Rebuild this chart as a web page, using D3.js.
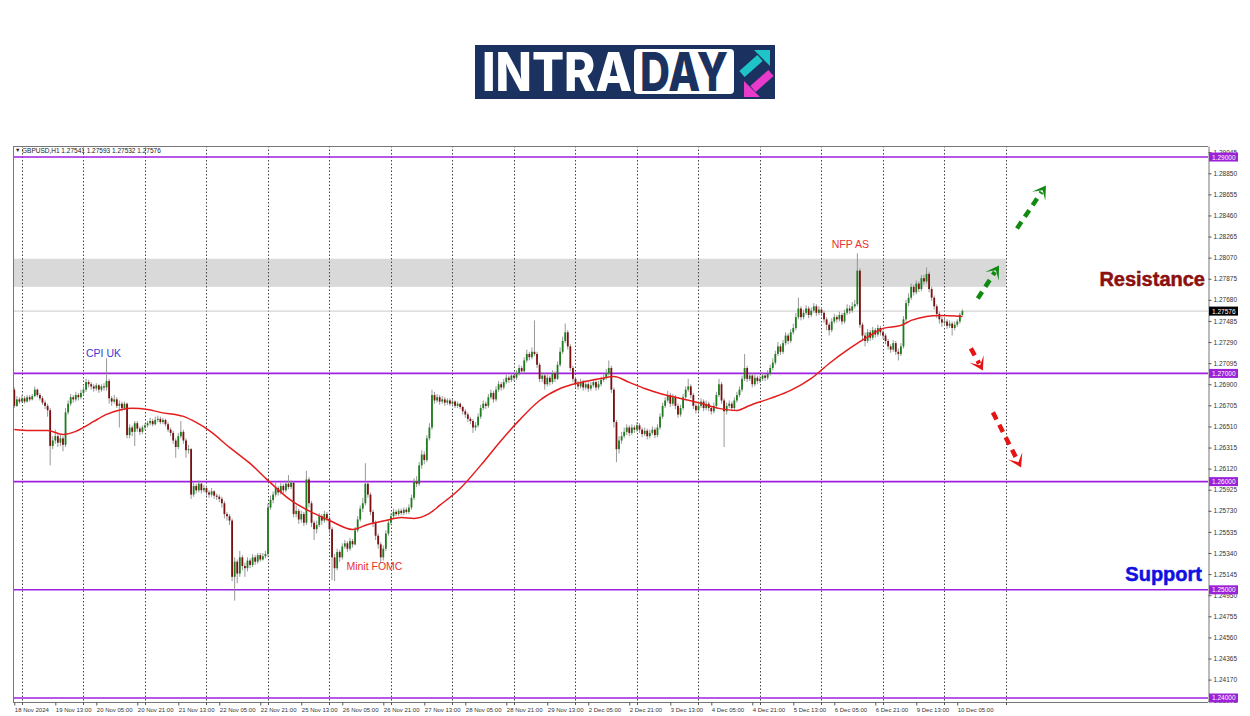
<!DOCTYPE html>
<html>
<head>
<meta charset="utf-8">
<script src="https://cdn.jsdelivr.net/npm/d3@7.9.0/dist/d3.min.js"></script>
<style>
  html, body { margin: 0; padding: 0; background: #fff; }
  svg { display: block; font-family: "Liberation Sans", Arial, sans-serif; }
</style>
</head>
<body>
<svg id="chart" width="1250" height="716"></svg>
<script>
// ====== DATA (GBPUSD H1, prices in points above 1.20000 : 7576 -> 1.27576) ======
// one row per trading day, first row = last 3 bars of 18 Nov
const open = [
  6850,6700,6760,
  6740,6770,6740,6780,6760,6790,6850,6800,6770,6730,6700,6660,6330,6380,6420,6360,6400,6340,6640,6720,6780,6760,6800,6780,
  6820,6850,6920,6900,6880,6860,6890,6850,6880,6870,6930,6770,6740,6760,6700,6720,6680,6720,6430,6500,6460,6540,6490,6460,
  6500,6520,6540,6560,6530,6570,6580,6550,6570,6530,6480,6450,6380,6320,6420,6460,6380,6290,6300,5880,5960,5920,5980,5920,
  5940,5900,5880,5910,5870,5860,5840,5800,5700,5680,5640,5120,5260,5150,5300,5220,5200,5270,5230,5300,5260,5320,5280,5310,
  5330,5760,5830,5880,5940,5900,5960,5920,5980,5950,5990,5700,5730,5650,5700,5620,6020,5800,5620,5560,5600,5680,5640,5700,
  5660,5560,5300,5200,5350,5300,5400,5430,5380,5450,5420,5550,5650,5750,5800,5980,5880,5720,5620,5500,5420,5300,5380,5520,
  5620,5680,5720,5700,5730,5710,5740,5720,5760,5850,6000,5980,6150,6250,6200,6400,6500,6800,6750,6780,6740,6760,6730,6750,
  6720,6740,6700,6720,6690,6650,6620,6580,6560,6500,6520,6600,6680,6720,6700,6780,6820,6760,6850,6900,6870,6920,6960,6940,
  6980,6960,7000,7050,7020,7120,7180,7150,7200,7180,7080,6950,6980,6900,6960,6920,7000,6950,7080,7200,7300,7380,7250,7050,
  6950,6900,6880,6920,6870,6900,6860,6890,6920,6870,6900,6940,6960,7000,7050,6850,6550,6300,6380,6420,6460,6500,6450,6500,
  6480,6520,6480,6440,6470,6420,6450,6480,6430,6500,6600,6700,6750,6800,6720,6780,6700,6620,6680,6780,6850,6880,6800,6700,
  6660,6700,6740,6680,6720,6680,6650,6700,6800,6900,6750,6650,6700,6720,6680,6750,6800,6850,6950,7050,6950,6980,6900,6960,
  6930,6950,6980,6960,7000,7050,7100,7180,7250,7200,7280,7350,7300,7380,7420,7520,7600,7520,7560,7600,7540,7580,7620,7560,
  7590,7560,7500,7450,7400,7480,7520,7500,7540,7480,7560,7600,7580,7620,7640,7950,7450,7350,7300,7380,7330,7400,7360,7420,
  7380,7350,7300,7250,7220,7280,7200,7180,7250,7500,7650,7700,7800,7750,7830,7780,7880,7850,7920,7780,7700,7620,7550,7500,
  7470,7480,7440,7460,7420,7450,7480,7541
];
const high = [
  6870,6790,6780,
  6800,6790,6800,6800,6810,6880,6860,6820,6790,6750,6720,6680,6420,6480,6440,6430,6420,6680,6750,6810,6800,6830,6820,6850,
  6880,6950,6940,6920,6900,6910,6900,6900,6910,7140,6950,6790,6800,6780,6750,6740,6740,6730,6530,6520,6560,6560,6510,6520,
  6540,6560,6590,6580,6600,6610,6600,6590,6580,6550,6500,6470,6400,6450,6560,6480,6400,6340,6310,5990,5980,6010,5990,5970,
  5960,5920,5940,5920,5890,5880,5860,5820,5720,5700,5660,5300,5280,5360,5320,5250,5300,5290,5330,5320,5340,5340,5340,5360,
  5800,5870,5910,6000,5960,5990,5980,6010,6060,6010,6000,5780,5750,5730,5720,6100,6040,5820,5640,5640,5710,5700,5730,5720,
  5680,5580,5330,5380,5370,5430,5460,5450,5480,5470,5580,5680,5780,5850,6170,6000,5900,5740,5640,5520,5440,5410,5550,5650,
  5710,5750,5740,5750,5750,5760,5760,5790,5880,6030,6050,6180,6290,6280,6430,6540,6850,6830,6810,6800,6790,6780,6770,6770,
  6760,6750,6740,6730,6700,6670,6640,6600,6580,6550,6630,6710,6750,6740,6810,6850,6840,6880,6930,6920,6950,6990,6980,7010,
  7000,7030,7080,7070,7150,7220,7200,7240,7490,7200,7100,7010,7000,6990,6980,7030,7020,7110,7240,7340,7460,7400,7270,7070,
  6970,6930,6950,6940,6930,6920,6920,6950,6940,6930,6970,6990,7040,7120,7070,6870,6570,6420,6460,6500,6530,6520,6530,6520,
  6550,6540,6500,6500,6490,6480,6510,6500,6530,6630,6730,6780,6840,6820,6810,6800,6720,6710,6810,6880,6950,6900,6820,6720,
  6730,6770,6760,6750,6740,6700,6730,6830,6950,6920,6770,6730,6750,6740,6780,6830,6880,6980,7180,7070,7010,7000,6990,6980,
  6980,7010,7000,7030,7080,7140,7210,7290,7270,7310,7380,7370,7410,7460,7560,7700,7620,7590,7630,7620,7610,7650,7640,7620,
  7610,7580,7520,7470,7510,7550,7540,7570,7560,7590,7640,7630,7660,7680,8110,7970,7470,7380,7410,7400,7430,7420,7450,7440,
  7400,7370,7320,7270,7310,7300,7230,7280,7530,7680,7740,7830,7820,7860,7850,7910,7910,7980,7940,7800,7720,7640,7570,7520,
  7510,7500,7490,7480,7480,7500,7560,7593
];
const low = [
  6680,6690,6720,
  6730,6720,6730,6740,6750,6780,6780,6750,6710,6670,6600,6150,6300,6350,6320,6330,6280,6320,6620,6700,6730,6740,6750,6760,
  6800,6830,6870,6850,6830,6840,6820,6830,6840,6840,6720,6700,6720,6680,6500,6650,6660,6400,6400,6420,6330,6460,6430,6440,
  6480,6500,6520,6510,6520,6550,6530,6530,6510,6460,6420,6350,6220,6300,6400,6350,6220,6260,5840,5860,5890,5900,5890,5900,
  5870,5850,5860,5840,5830,5810,5760,5660,5640,5600,5080,4900,5060,5120,5180,5120,5170,5200,5210,5230,5240,5260,5270,5290,
  5300,5740,5800,5860,5870,5880,5890,5900,5930,5930,5670,5670,5610,5620,5590,5600,5760,5580,5460,5520,5580,5600,5620,5630,
  5520,5090,5080,5180,5260,5280,5380,5350,5360,5390,5410,5530,5630,5720,5780,5850,5690,5580,5460,5380,5250,5270,5360,5500,
  5600,5660,5680,5680,5690,5690,5700,5700,5740,5830,5950,5960,6120,6160,6180,6380,6480,6720,6730,6710,6720,6700,6710,6700,
  6700,6680,6680,6670,6620,6590,6550,6530,6450,6470,6500,6580,6660,6670,6680,6760,6730,6740,6830,6840,6850,6900,6910,6920,
  6930,6940,6980,6990,7000,7100,7120,7130,7160,7050,6920,6920,6850,6880,6890,6900,6920,6940,7060,7180,7280,7220,7020,6920,
  6870,6850,6860,6840,6850,6830,6840,6870,6840,6850,6880,6920,6940,6980,6820,6500,6180,6260,6350,6400,6430,6420,6430,6450,
  6460,6450,6410,6420,6390,6400,6430,6400,6410,6480,6580,6680,6730,6690,6700,6670,6590,6600,6660,6760,6830,6770,6670,6630,
  6640,6680,6650,6660,6650,6620,6630,6680,6780,6720,6320,6620,6680,6650,6660,6730,6780,6830,6930,6920,6930,6870,6880,6900,
  6910,6930,6930,6940,6980,7030,7080,7160,7170,7180,7260,7270,7280,7360,7400,7500,7490,7500,7540,7510,7520,7560,7530,7540,
  7530,7470,7400,7350,7380,7460,7470,7480,7450,7460,7540,7550,7560,7600,7620,7420,7300,7250,7280,7300,7310,7330,7340,7350,
  7320,7270,7220,7190,7200,7170,7120,7160,7230,7480,7620,7680,7720,7730,7750,7760,7820,7830,7750,7670,7590,7510,7460,7430,
  7440,7410,7420,7350,7400,7430,7460,7532
];
const close = [
  6700,6760,6740,
  6770,6740,6780,6760,6790,6850,6800,6770,6730,6700,6660,6330,6380,6420,6360,6400,6340,6640,6720,6780,6760,6800,6780,6820,
  6850,6920,6900,6880,6860,6890,6850,6880,6870,6930,6770,6740,6760,6700,6720,6680,6720,6430,6500,6460,6540,6490,6460,6500,
  6520,6540,6560,6530,6570,6580,6550,6570,6530,6480,6450,6380,6320,6420,6460,6380,6290,6300,5880,5960,5920,5980,5920,5940,
  5900,5880,5910,5870,5860,5840,5800,5700,5680,5640,5120,5260,5150,5300,5220,5200,5270,5230,5300,5260,5320,5280,5310,5330,
  5760,5830,5880,5940,5900,5960,5920,5980,5950,5990,5700,5730,5650,5700,5620,6020,5800,5620,5560,5600,5680,5640,5700,5660,
  5560,5300,5200,5350,5300,5400,5430,5380,5450,5420,5550,5650,5750,5800,5980,5880,5720,5620,5500,5420,5300,5380,5520,5620,
  5680,5720,5700,5730,5710,5740,5720,5760,5850,6000,5980,6150,6250,6200,6400,6500,6800,6750,6780,6740,6760,6730,6750,6720,
  6740,6700,6720,6690,6650,6620,6580,6560,6500,6520,6600,6680,6720,6700,6780,6820,6760,6850,6900,6870,6920,6960,6940,6980,
  6960,7000,7050,7020,7120,7180,7150,7200,7180,7080,6950,6980,6900,6960,6920,7000,6950,7080,7200,7300,7380,7250,7050,6950,
  6900,6880,6920,6870,6900,6860,6890,6920,6870,6900,6940,6960,7000,7050,6850,6550,6300,6380,6420,6460,6500,6450,6500,6480,
  6520,6480,6440,6470,6420,6450,6480,6430,6500,6600,6700,6750,6800,6720,6780,6700,6620,6680,6780,6850,6880,6800,6700,6660,
  6700,6740,6680,6720,6680,6650,6700,6800,6900,6750,6650,6700,6720,6680,6750,6800,6850,6950,7050,6950,6980,6900,6960,6930,
  6950,6980,6960,7000,7050,7100,7180,7250,7200,7280,7350,7300,7380,7420,7520,7600,7520,7560,7600,7540,7580,7620,7560,7590,
  7560,7500,7450,7400,7480,7520,7500,7540,7480,7560,7600,7580,7620,7640,7950,7450,7350,7300,7380,7330,7400,7360,7420,7380,
  7350,7300,7250,7220,7280,7200,7180,7250,7500,7650,7700,7800,7750,7830,7780,7880,7850,7920,7780,7700,7620,7550,7500,7470,
  7480,7440,7460,7420,7450,7480,7541,7576
];

// moving average, read at some bars (bar index -> points)
const maBar = [0,6,13,19,24,27,31,36,42,46,52,57,66,71,76,84,92,99,108,117,123,132,138,145,151,156,162,166,174,182,190,197,205,213,221,229,234,240,246,252,260,268,275,282,287,295,303,311,318,326,334,339,346,350,356,361,370];
const maValue = [6482,6473,6473,6436,6464,6501,6556,6621,6667,6677,6667,6640,6603,6547,6473,6316,6168,6011,5826,5706,5641,5558,5604,5641,5669,5660,5706,5780,5937,6150,6381,6566,6750,6861,6917,6954,6972,6917,6861,6815,6769,6723,6677,6658,6704,6769,6843,6954,7092,7231,7351,7416,7444,7490,7527,7536,7527];

const timeLabels = ["18 Nov 2024","19 Nov 13:00","20 Nov 05:00","20 Nov 21:00","21 Nov 13:00","22 Nov 05:00","22 Nov 21:00","25 Nov 13:00","26 Nov 05:00","26 Nov 21:00","27 Nov 13:00","28 Nov 05:00","28 Nov 21:00","29 Nov 13:00","2 Dec 05:00","2 Dec 21:00","3 Dec 13:00","4 Dec 05:00","4 Dec 21:00","5 Dec 13:00","6 Dec 05:00","6 Dec 21:00","9 Dec 13:00","10 Dec 05:00"];
const levels = [1.29, 1.27, 1.26, 1.25, 1.24];
const zone = [7800, 8060];          // resistance box
const lastPrice = 1.27576;

// dashed arrows [fromBar, fromPts, toBar, toPts]
const upArrows = [[376, 7693, 384.3, 7998], [391.3, 8340, 402.6, 8737]];
const downArrows = [[373.3, 7231, 378, 7028], [381.9, 6640, 392.9, 6131]];

if ([open, high, low].some((a) => a.length !== close.length)) throw new Error("length mismatch");

// ====== SCALES ======
const svg = d3.select("#chart");
const plot = { left: 13, right: 1208, top: 146, bottom: 702 };
const pt = (v) => 1.2 + v / 100000;

const x = d3.scaleLinear().domain([0, 466]).range([14.3, 1208.4]);
const y = d3.scaleLinear().domain([1.23963, 1.29102]).range([plot.bottom, plot.top]);

svg.append("defs").append("clipPath").attr("id", "plotClip")
  .append("rect")
  .attr("x", plot.left).attr("y", plot.top)
  .attr("width", plot.right - plot.left).attr("height", plot.bottom - plot.top);

const g = svg.append("g").attr("clip-path", "url(#plotClip)");

// resistance box
const dayStarts = d3.range(3, 388, 24);
g.append("rect")
  .attr("x", plot.left)
  .attr("y", y(pt(zone[1])))
  .attr("width", x(dayStarts[dayStarts.length - 1]) - plot.left)
  .attr("height", y(pt(zone[0])) - y(pt(zone[1])))
  .attr("fill", "#d9d9d9");

// day separators
g.selectAll(".vgrid").data(dayStarts).join("line")
  .attr("x1", (d) => Math.round(x(d)) + 0.5).attr("x2", (d) => Math.round(x(d)) + 0.5)
  .attr("y1", plot.top).attr("y2", plot.bottom)
  .attr("stroke", "#444").attr("stroke-width", 1).attr("stroke-dasharray", "1.5,2");

// last price line
g.append("line")
  .attr("x1", plot.left).attr("x2", plot.right)
  .attr("y1", y(lastPrice)).attr("y2", y(lastPrice))
  .attr("stroke", "#c8c8c8").attr("stroke-width", 1);

// round number levels
g.selectAll(".level").data(levels).join("line")
  .attr("x1", plot.left).attr("x2", plot.right)
  .attr("y1", (d) => y(d)).attr("y2", (d) => y(d))
  .attr("stroke", "#a020e0").attr("stroke-width", 1.6);

// ====== CANDLES ======
const bars = close.map((c, i) => ({ i, o: open[i], h: high[i], l: low[i], c }));

g.selectAll(".wick").data(bars).join("line")
  .attr("x1", (d) => x(d.i)).attr("x2", (d) => x(d.i))
  .attr("y1", (d) => y(pt(d.h))).attr("y2", (d) => y(pt(d.l)))
  .attr("stroke", "#8c8c8c").attr("stroke-width", 0.9);

g.selectAll(".body").data(bars).join("rect")
  .attr("x", (d) => x(d.i) - 0.9)
  .attr("width", 1.8)
  .attr("y", (d) => y(pt(Math.max(d.o, d.c))))
  .attr("height", (d) => Math.max(0.8, Math.abs(y(pt(d.o)) - y(pt(d.c)))))
  .attr("fill", (d) => (d.c >= d.o ? "#1e7d1e" : "#7a1010"));

// moving average
const maLine = d3.line()
  .x((d, k) => x(maBar[k]))
  .y((d) => y(pt(d)))
  .curve(d3.curveMonotoneX);

g.append("path")
  .attr("d", maLine(maValue))
  .attr("fill", "none")
  .attr("stroke", "#e51c1c")
  .attr("stroke-width", 1.5);

// ====== ARROWS ======
function drawArrow(a, color) {
  const x0 = x(a[0]), y0 = y(pt(a[1])), x1 = x(a[2]), y1 = y(pt(a[3]));
  const len = Math.hypot(x1 - x0, y1 - y0);
  const ux = (x1 - x0) / len, uy = (y1 - y0) / len;
  const nx = -uy, ny = ux;
  const head = 13, wing = 8;
  g.append("line")
    .attr("x1", x0).attr("y1", y0)
    .attr("x2", x1 - ux * head * 0.6).attr("y2", y1 - uy * head * 0.6)
    .attr("stroke", color).attr("stroke-width", 4.5)
    .attr("stroke-dasharray", "8,6");
  const p = [
    [x1, y1],
    [x1 - ux * head + nx * wing, y1 - uy * head + ny * wing],
    [x1 - ux * head * 0.45, y1 - uy * head * 0.45],
    [x1 - ux * head - nx * wing, y1 - uy * head - ny * wing]
  ];
  g.append("polygon").attr("points", p.map((q) => q.join(",")).join(" ")).attr("fill", color);
}
upArrows.forEach((a) => drawArrow(a, "#128a12"));
downArrows.forEach((a) => drawArrow(a, "#e41414"));

// ====== TEXT NOTES ======
g.append("text").attr("x", x(36) - 3).attr("y", y(pt(7140)) - 1)
  .attr("text-anchor", "middle").attr("font-size", 10.5).attr("fill", "#3a3ad0").text("CPI UK");
g.append("text").attr("x", x(329) - 7).attr("y", y(pt(8110)) - 5)
  .attr("text-anchor", "middle").attr("font-size", 10.5).attr("fill", "#e8302c").text("NFP AS");
g.append("text").attr("x", x(129.6)).attr("y", y(pt(5180)))
  .attr("font-size", 10.5).attr("fill", "#e8302c").text("Minit FOMC");
svg.append("text").attr("x", plot.right - 3).attr("y", y(pt(7804)))
  .attr("text-anchor", "end").attr("font-size", 20).attr("font-weight", "bold")
  .attr("fill", "#8b1010").attr("stroke", "#8b1010").attr("stroke-width", 0.5).text("Resistance");
svg.append("text").attr("x", plot.right - 6).attr("y", y(pt(5078)))
  .attr("text-anchor", "end").attr("font-size", 20).attr("font-weight", "bold")
  .attr("fill", "#1010e0").attr("stroke", "#1010e0").attr("stroke-width", 0.5).text("Support");

// ====== FRAME & AXES ======
svg.append("line").attr("x1", plot.left + 0.5).attr("x2", plot.left + 0.5)
  .attr("y1", plot.top).attr("y2", plot.bottom).attr("stroke", "#777");
svg.append("line").attr("x1", plot.left).attr("x2", plot.right)
  .attr("y1", plot.top + 0.5).attr("y2", plot.top + 0.5).attr("stroke", "#777");

const priceTicks = d3.range(27).map((k) => 1.23975 + k * 0.00195);
const yAxis = svg.append("g")
  .attr("transform", `translate(${plot.right + 0.5},0)`)
  .call(d3.axisRight(y).tickValues(priceTicks).tickFormat(d3.format(".5f")).tickSize(3).tickSizeOuter(0));
yAxis.select(".domain").attr("stroke", "#777");
yAxis.selectAll(".tick line").attr("stroke", "#555");
yAxis.selectAll("text").attr("x", 5).attr("font-size", 6.5).attr("fill", "#333")
  .attr("font-family", "Liberation Sans, Arial, sans-serif");

const labelBars = timeLabels.map((t, k) => k * 16);
const xAxis = svg.append("g")
  .attr("transform", `translate(0,${plot.bottom + 0.5})`)
  .call(d3.axisBottom(x).tickValues(labelBars).tickFormat((d, k) => timeLabels[k]).tickSize(3).tickSizeOuter(0));
xAxis.select(".domain").attr("stroke", "#777").attr("d", `M${plot.left},0H${plot.right}`);
xAxis.selectAll(".tick line").attr("stroke", "#555");
xAxis.selectAll("text").attr("text-anchor", "start").attr("x", 0).attr("y", 5)
  .attr("font-size", 6).attr("fill", "#333")
  .attr("font-family", "Liberation Sans, Arial, sans-serif");

// day ticks on the time scale
svg.selectAll(".dtick").data(dayStarts).join("line")
  .attr("x1", (d) => Math.round(x(d)) + 0.5).attr("x2", (d) => Math.round(x(d)) + 0.5)
  .attr("y1", plot.bottom).attr("y2", plot.bottom + 3)
  .attr("stroke", "#555");

// price tags on the axis
const tags = levels.map((v) => ({ v, bg: "#9b22d8", fg: "#fff" }))
  .concat([{ v: lastPrice, bg: "#000", fg: "#fff" }]);
const tag = svg.selectAll(".tag").data(tags).join("g")
  .attr("transform", (d) => `translate(${plot.right + 1},${y(d.v)})`);
tag.append("rect").attr("x", 0).attr("y", -4.5).attr("width", 29).attr("height", 9)
  .attr("fill", (d) => d.bg);
tag.append("text").attr("x", 3).attr("y", 2.5).attr("font-size", 6.5)
  .attr("fill", (d) => d.fg).text((d) => d3.format(".5f")(d.v));

// header
svg.append("text").attr("x", 15).attr("y", 152).attr("font-size", 5.5).attr("fill", "#222").text("\u25BC");
svg.append("text").attr("x", 22).attr("y", 152.5).attr("font-size", 6.5).attr("fill", "#222")
  .text("GBPUSD,H1  1.27541 1.27593 1.27532 1.27576");

// ====== LOGO ======
const logo = svg.append("g");
logo.append("rect").attr("x", 475).attr("y", 45).attr("width", 300).attr("height", 54).attr("fill", "#1b3261");
logo.append("text").attr("x", 482).attr("y", 91)
  .attr("font-family", "Inter, 'Open Sans', sans-serif").attr("font-weight", 800).attr("font-size", 53)
  .attr("fill", "#fff").attr("textLength", 150).attr("lengthAdjust", "spacingAndGlyphs").text("INTRA");
logo.append("rect").attr("x", 634).attr("y", 49).attr("width", 100).attr("height", 45).attr("rx", 4).attr("fill", "#fff");
logo.append("text").attr("x", 640).attr("y", 91)
  .attr("font-family", "Inter, 'Open Sans', sans-serif").attr("font-weight", 800).attr("font-size", 53)
  .attr("fill", "#1b3261").attr("textLength", 88).attr("lengthAdjust", "spacingAndGlyphs").text("DAY");
// cyan / magenta arrows of the logo
logo.append("line").attr("x1", 742).attr("y1", 74).attr("x2", 760).attr("y2", 58)
  .attr("stroke", "#1fc4c8").attr("stroke-width", 8);
logo.append("polygon").attr("points", "754,50 770,50 770,66").attr("fill", "#1fc4c8");
logo.append("line").attr("x1", 771).attr("y1", 73).attr("x2", 753).attr("y2", 89)
  .attr("stroke", "#e83acb").attr("stroke-width", 8);
logo.append("polygon").attr("points", "744,81 744,97 760,97").attr("fill", "#e83acb");
</script>
</body>
</html>
